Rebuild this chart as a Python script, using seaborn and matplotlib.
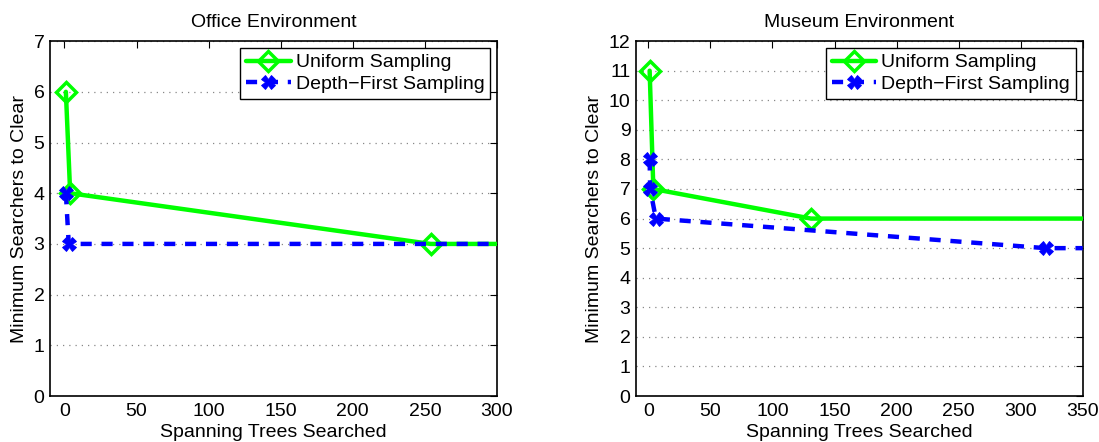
import matplotlib
matplotlib.use("Agg")
import matplotlib.pyplot as plt
import pandas as pd
import seaborn as sns

# Office environment
office_uniform_x = [1, 4, 254, 300]
office_uniform_y = [6, 4, 3, 3]
office_depth_x = [1, 3, 300]
office_depth_y = [4, 3, 3]

# Museum environment
museum_uniform_x = [1, 4, 131, 350]
museum_uniform_y = [11, 7, 6, 6]
museum_depth_x = [1, 1.4, 6, 320, 350]
museum_depth_y = [8, 7, 6, 5, 5]

titles = ["Office Environment", "Museum Environment"]
x_limits = [(-10, 300), (-10, 350)]
y_tops = [7, 12]

sns.set_style("white")
plt.rcParams["font.family"] = ["Liberation Sans", "DejaVu Sans"]
plt.rcParams["font.size"] = 14
for key in ["text.color", "axes.labelcolor", "xtick.color", "ytick.color"]:
    plt.rcParams[key] = "black"

fig = plt.figure(figsize=(10.99, 4.42), dpi=100)
ax1 = fig.add_axes([0.0455, 0.104, 0.4067, 0.803])
ax2 = fig.add_axes([0.5787, 0.104, 0.4065, 0.803])

panels = [
    (ax1, office_uniform_x, office_uniform_y, office_depth_x, office_depth_y),
    (ax2, museum_uniform_x, museum_uniform_y, museum_depth_x, museum_depth_y),
]

for i, (ax, ux, uy, dx, dy) in enumerate(panels):
    uni = pd.DataFrame({"x": ux, "y": uy})
    dep = pd.DataFrame({"x": dx, "y": dy})
    sns.lineplot(data=uni, x="x", y="y", ax=ax, sort=False, estimator=None,
                 color=(0, 1, 0), linewidth=3.2, marker="D", markersize=10,
                 markerfacecolor="none", markeredgecolor=(0, 1, 0),
                 markeredgewidth=2.5, markevery=list(range(len(ux) - 1)),
                 label="Uniform Sampling", zorder=3)
    sns.lineplot(data=dep, x="x", y="y", ax=ax, sort=False, estimator=None,
                 color=(0, 0, 1), linewidth=3.2, linestyle=(0, (2.5, 2.2)),
                 marker="X", markersize=10, markeredgewidth=0.6,
                 markeredgecolor=(0, 0, 1),
                 markevery=list(range(len(dx) - 1)),
                 label="Depth\u2212First Sampling", zorder=4)

    ax.set_xlim(*x_limits[i])
    ax.set_ylim(0, y_tops[i])
    ax.set_yticks(range(0, y_tops[i] + 1))
    ax.set_xticks(range(0, x_limits[i][1] + 1, 50))
    ax.grid(axis="y", linestyle=(0, (1, 4)), color="#888888", linewidth=0.9)
    ax.tick_params(direction="in", top=True, right=True, length=5,
                   width=0.8, color="black", labelsize=14)
    ax.tick_params(axis="x", pad=5)
    ax.tick_params(axis="y", pad=4)
    for s in ax.spines.values():
        s.set_color("black")
        s.set_linewidth(1.2)
    ax.set_title(titles[i], fontsize=14, pad=10)
    ax.set_xlabel("Spanning Trees Searched", fontsize=14, labelpad=3)
    ax.set_ylabel("Minimum Searchers to Clear", fontsize=14, labelpad=4)
    leg = ax.legend(loc="upper right", handlelength=2.3, fontsize=14,
                    borderpad=0.3, labelspacing=0.2, handletextpad=0.25,
                    borderaxespad=0.35, fancybox=False, framealpha=1)
    leg.get_frame().set_edgecolor("black")
    leg.get_frame().set_linewidth(1.0)

fig.savefig("out.png", dpi=100)
